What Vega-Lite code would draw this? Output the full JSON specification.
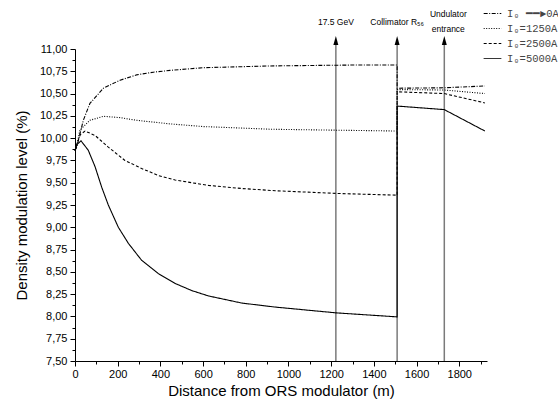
{
  "$schema": "https://vega.github.io/schema/vega-lite/v6.json",
  "width": 412,
  "height": 312,
  "autosize": {"type": "none"},
  "padding": {"left": 75, "top": 49, "right": 71, "bottom": 40},
  "background": "white",
  "config": {
    "view": {"stroke": null},
    "font": "Liberation Sans",
    "axis": {
      "grid": false,
      "domainColor": "black",
      "domainWidth": 1,
      "tickColor": "black",
      "tickWidth": 1,
      "tickSize": 5,
      "labelColor": "black",
      "labelFont": "Liberation Sans",
      "labelFontSize": 11,
      "titleFont": "Liberation Sans",
      "titleFontSize": 15,
      "titleFontWeight": "normal",
      "titleColor": "black"
    }
  },
  "datasets": {
    "curves": [
      {"s": "I₀ ━━►0A", "i": 1, "x": 0, "y": 9.86},
      {"s": "I₀ ━━►0A", "i": 2, "x": 8, "y": 9.9},
      {"s": "I₀ ━━►0A", "i": 3, "x": 39, "y": 10.2},
      {"s": "I₀ ━━►0A", "i": 4, "x": 70, "y": 10.39},
      {"s": "I₀ ━━►0A", "i": 5, "x": 133, "y": 10.56},
      {"s": "I₀ ━━►0A", "i": 6, "x": 211, "y": 10.65},
      {"s": "I₀ ━━►0A", "i": 7, "x": 289, "y": 10.71},
      {"s": "I₀ ━━►0A", "i": 8, "x": 367, "y": 10.74},
      {"s": "I₀ ━━►0A", "i": 9, "x": 445, "y": 10.76},
      {"s": "I₀ ━━►0A", "i": 10, "x": 600, "y": 10.79},
      {"s": "I₀ ━━►0A", "i": 11, "x": 758, "y": 10.8},
      {"s": "I₀ ━━►0A", "i": 12, "x": 914, "y": 10.81},
      {"s": "I₀ ━━►0A", "i": 13, "x": 1100, "y": 10.815},
      {"s": "I₀ ━━►0A", "i": 14, "x": 1300, "y": 10.82},
      {"s": "I₀ ━━►0A", "i": 15, "x": 1509, "y": 10.82},
      {"s": "I₀ ━━►0A", "i": 16, "x": 1509, "y": 10.56},
      {"s": "I₀ ━━►0A", "i": 17, "x": 1730, "y": 10.565},
      {"s": "I₀ ━━►0A", "i": 18, "x": 1920, "y": 10.585},

      {"s": "I₀=1250A", "i": 1, "x": 0, "y": 9.86},
      {"s": "I₀=1250A", "i": 2, "x": 8, "y": 9.91},
      {"s": "I₀=1250A", "i": 3, "x": 23, "y": 10.09},
      {"s": "I₀=1250A", "i": 4, "x": 70, "y": 10.2},
      {"s": "I₀=1250A", "i": 5, "x": 133, "y": 10.245},
      {"s": "I₀=1250A", "i": 6, "x": 211, "y": 10.23},
      {"s": "I₀=1250A", "i": 7, "x": 289, "y": 10.2},
      {"s": "I₀=1250A", "i": 8, "x": 445, "y": 10.16},
      {"s": "I₀=1250A", "i": 9, "x": 600, "y": 10.13},
      {"s": "I₀=1250A", "i": 10, "x": 758, "y": 10.115},
      {"s": "I₀=1250A", "i": 11, "x": 914, "y": 10.1},
      {"s": "I₀=1250A", "i": 12, "x": 1200, "y": 10.09},
      {"s": "I₀=1250A", "i": 13, "x": 1509, "y": 10.08},
      {"s": "I₀=1250A", "i": 14, "x": 1509, "y": 10.545},
      {"s": "I₀=1250A", "i": 15, "x": 1730, "y": 10.54},
      {"s": "I₀=1250A", "i": 16, "x": 1920, "y": 10.5},

      {"s": "I₀=2500A", "i": 1, "x": 0, "y": 9.86},
      {"s": "I₀=2500A", "i": 2, "x": 8, "y": 9.93},
      {"s": "I₀=2500A", "i": 3, "x": 25, "y": 10.04},
      {"s": "I₀=2500A", "i": 4, "x": 47, "y": 10.08},
      {"s": "I₀=2500A", "i": 5, "x": 94, "y": 10.03},
      {"s": "I₀=2500A", "i": 6, "x": 156, "y": 9.9},
      {"s": "I₀=2500A", "i": 7, "x": 234, "y": 9.75},
      {"s": "I₀=2500A", "i": 8, "x": 312, "y": 9.66},
      {"s": "I₀=2500A", "i": 9, "x": 391, "y": 9.58},
      {"s": "I₀=2500A", "i": 10, "x": 469, "y": 9.53},
      {"s": "I₀=2500A", "i": 11, "x": 625, "y": 9.47},
      {"s": "I₀=2500A", "i": 12, "x": 781, "y": 9.435},
      {"s": "I₀=2500A", "i": 13, "x": 938, "y": 9.41},
      {"s": "I₀=2500A", "i": 14, "x": 1223, "y": 9.38},
      {"s": "I₀=2500A", "i": 15, "x": 1509, "y": 9.36},
      {"s": "I₀=2500A", "i": 16, "x": 1509, "y": 10.52},
      {"s": "I₀=2500A", "i": 17, "x": 1730, "y": 10.5},
      {"s": "I₀=2500A", "i": 18, "x": 1920, "y": 10.395},

      {"s": "I₀=5000A", "i": 1, "x": 0, "y": 9.86},
      {"s": "I₀=5000A", "i": 2, "x": 10, "y": 9.93},
      {"s": "I₀=5000A", "i": 3, "x": 28, "y": 9.97},
      {"s": "I₀=5000A", "i": 4, "x": 62, "y": 9.865},
      {"s": "I₀=5000A", "i": 5, "x": 94, "y": 9.68},
      {"s": "I₀=5000A", "i": 6, "x": 125, "y": 9.45},
      {"s": "I₀=5000A", "i": 7, "x": 156, "y": 9.25},
      {"s": "I₀=5000A", "i": 8, "x": 203, "y": 9.0},
      {"s": "I₀=5000A", "i": 9, "x": 250, "y": 8.82},
      {"s": "I₀=5000A", "i": 10, "x": 312, "y": 8.63},
      {"s": "I₀=5000A", "i": 11, "x": 391, "y": 8.48},
      {"s": "I₀=5000A", "i": 12, "x": 469, "y": 8.37},
      {"s": "I₀=5000A", "i": 13, "x": 547, "y": 8.29},
      {"s": "I₀=5000A", "i": 14, "x": 625, "y": 8.23},
      {"s": "I₀=5000A", "i": 15, "x": 781, "y": 8.15},
      {"s": "I₀=5000A", "i": 16, "x": 938, "y": 8.105},
      {"s": "I₀=5000A", "i": 17, "x": 1223, "y": 8.04},
      {"s": "I₀=5000A", "i": 18, "x": 1509, "y": 7.995},
      {"s": "I₀=5000A", "i": 19, "x": 1509, "y": 10.36},
      {"s": "I₀=5000A", "i": 20, "x": 1730, "y": 10.32},
      {"s": "I₀=5000A", "i": 21, "x": 1920, "y": 10.08}
    ],
    "arrows": [
      {"name": "17.5 GeV", "x": 1222},
      {"name": "Collimator R₅₆", "x": 1509},
      {"name": "Undulator\nentrance", "x": 1730}
    ]
  },
  "resolve": {"axis": {"x": "independent", "y": "independent"}},
  "layer": [
    {
      "data": {"name": "arrows"},
      "mark": {"type": "rule", "color": "#7a7a7a", "strokeWidth": 1.5},
      "encoding": {
        "x": {"field": "x", "type": "quantitative", "axis": null},
        "y": {"datum": 7.5, "type": "quantitative", "axis": null},
        "y2": {"datum": 11.09}
      }
    },
    {
      "data": {"name": "curves"},
      "mark": {"type": "line", "color": "black", "strokeWidth": 1.1},
      "encoding": {
        "x": {
          "field": "x", "type": "quantitative",
          "scale": {"domain": [0, 1930], "nice": false, "zero": false},
          "axis": {
            "title": "Distance from ORS modulator (m)",
            "orient": "bottom",
            "values": [0, 200, 400, 600, 800, 1000, 1200, 1400, 1600, 1800],
            "format": "d",
            "labelPadding": 2,
            "titlePadding": 4,
            "labelFlush": false
          }
        },
        "y": {
          "field": "y", "type": "quantitative",
          "scale": {"domain": [7.5, 11], "nice": false, "zero": false},
          "axis": {
            "title": "Density modulation level (%)",
            "orient": "left",
            "values": [7.5, 7.75, 8, 8.25, 8.5, 8.75, 9, 9.25, 9.5, 9.75, 10, 10.25, 10.5, 10.75, 11],
            "labelExpr": "replace(format(datum.value, '.2f'), '.', ',')",
            "labelPadding": 3,
            "titlePadding": 10,
            "labelFlush": false
          }
        },
        "strokeDash": {
          "field": "s", "type": "nominal",
          "scale": {
            "domain": ["I₀ ━━►0A", "I₀=1250A", "I₀=2500A", "I₀=5000A"],
            "range": [[4, 1.5, 1, 1.5], [1, 1.5], [3, 2], [1, 0]]
          },
          "legend": {
            "orient": "none",
            "legendX": 408,
            "legendY": -45,
            "title": null,
            "symbolType": "stroke",
            "symbolSize": 310,
            "symbolStrokeWidth": 1,
            "symbolStrokeColor": "black",
            "labelFont": "Liberation Mono",
            "labelFontSize": 10.5,
            "labelColor": "#444",
            "labelOffset": 5,
            "rowPadding": 0,
            "padding": 0
          }
        },
        "order": {"field": "i", "type": "quantitative"}
      }
    },
    {
      "data": {"name": "curves"},
      "mark": {"type": "point", "opacity": 0},
      "encoding": {
        "x": {
          "field": "x", "type": "quantitative",
          "axis": {
            "title": null, "orient": "bottom", "labels": false, "domain": false,
            "tickSize": 3,
            "values": [100, 300, 500, 700, 900, 1100, 1300, 1500, 1700, 1900]
          }
        },
        "y": {
          "field": "y", "type": "quantitative",
          "axis": {
            "title": null, "orient": "left", "labels": false, "domain": false,
            "tickSize": 3,
            "values": [7.625, 7.875, 8.125, 8.375, 8.625, 8.875, 9.125, 9.375, 9.625, 9.875, 10.125, 10.375, 10.625, 10.875]
          }
        }
      }
    },
    {
      "data": {"name": "arrows"},
      "mark": {"type": "point", "shape": "M0,-1L0.55,1L-0.55,1Z", "filled": true, "color": "black", "opacity": 1, "size": 81, "strokeWidth": 0},
      "encoding": {
        "x": {"field": "x", "type": "quantitative", "axis": null},
        "y": {"datum": 11.095, "type": "quantitative", "axis": null}
      }
    },
    {
      "data": {"name": "arrows"},
      "transform": [{"filter": "indexof(datum.name, '\\n') < 0"}],
      "mark": {"type": "text", "font": "Liberation Sans", "fontSize": 8.5, "align": "center", "baseline": "middle", "color": "black"},
      "encoding": {
        "x": {"field": "x", "type": "quantitative", "axis": null},
        "y": {"datum": 11.3, "type": "quantitative", "axis": null},
        "text": {"field": "name"}
      }
    },
    {
      "data": {"name": "arrows"},
      "transform": [{"filter": "indexof(datum.name, '\\n') >= 0"}],
      "mark": {"type": "text", "font": "Liberation Sans", "fontSize": 8.5, "align": "center", "baseline": "middle", "lineBreak": "\n", "lineHeight": 15, "dx": 4, "dy": -8, "color": "black"},
      "encoding": {
        "x": {"field": "x", "type": "quantitative", "axis": null},
        "y": {"datum": 11.3, "type": "quantitative", "axis": null},
        "text": {"field": "name"}
      }
    }
  ]
}
